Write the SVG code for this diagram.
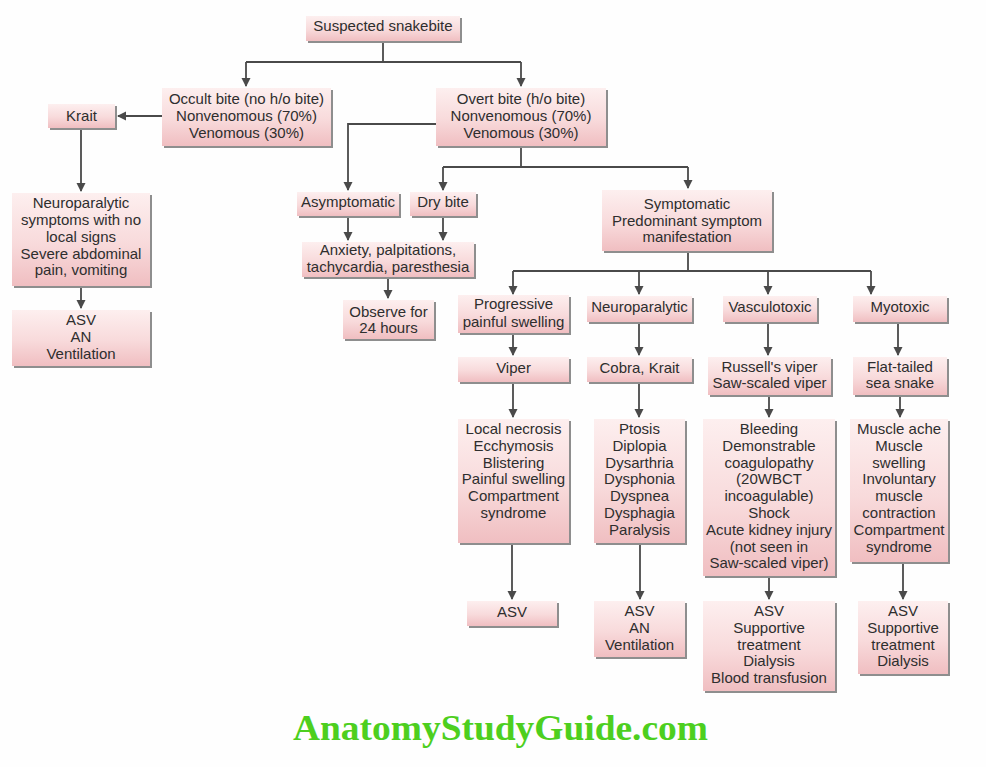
<svg xmlns="http://www.w3.org/2000/svg" width="986" height="767" viewBox="0 0 986 767">
<defs>
<linearGradient id="g" x1="0" y1="0" x2="0" y2="1">
<stop offset="0" stop-color="#fdefef"/>
<stop offset="0.55" stop-color="#f8dadb"/>
<stop offset="1" stop-color="#f0bec1"/>
</linearGradient>
<marker id="ah" markerUnits="userSpaceOnUse" markerWidth="10" markerHeight="10" refX="8" refY="4.5" orient="auto">
<path d="M0,0 L9,4.5 L0,9 z" fill="#4a4a4a"/>
</marker>
<style>
.sh{fill:#8e8e8e}
.bx{fill:url(#g)}
.t{font-family:"Liberation Sans",Arial,sans-serif;font-size:15px;fill:#2e2e2e;text-anchor:middle}
.c{fill:none;stroke:#4a4a4a;stroke-width:1.8}
.a{marker-end:url(#ah)}
.wm{font-family:"Liberation Serif","Times New Roman",serif;font-weight:bold;font-size:36px;fill:#4dcf1e;text-anchor:middle}
</style>
</defs>
<rect width="986" height="767" fill="#fefefe"/>

<g id="connectors">
<path class="c" d="M383,42 V62 M246,62 H521"/>
<path class="c a" d="M246,62 V86"/>
<path class="c a" d="M521,62 V86"/>
<path class="c a" d="M162,116 H118"/>
<path class="c a" d="M81,128 V191"/>
<path class="c a" d="M81,287 V308"/>
<path class="c a" d="M436,124 H348 V190"/>
<path class="c" d="M521,147 V167 M443,167 H688"/>
<path class="c a" d="M443,167 V190"/>
<path class="c a" d="M688,167 V188"/>
<path class="c a" d="M348,216 V240"/>
<path class="c a" d="M443,216 V240"/>
<path class="c a" d="M388,277 V298"/>
<path class="c" d="M688,251 V271 M513,271 H871"/>
<path class="c a" d="M513,271 V294"/>
<path class="c a" d="M639,271 V294"/>
<path class="c a" d="M768,271 V294"/>
<path class="c a" d="M871,271 V294"/>
<path class="c a" d="M513,334 V355"/>
<path class="c a" d="M639,322 V355"/>
<path class="c a" d="M768,322 V355"/>
<path class="c a" d="M898,322 V355"/>
<path class="c a" d="M513,382 V417"/>
<path class="c a" d="M639,382 V417"/>
<path class="c a" d="M769,395 V417"/>
<path class="c a" d="M900,395 V417"/>
<path class="c a" d="M512,543 V599"/>
<path class="c a" d="M640,543 V599"/>
<path class="c a" d="M769,576 V599"/>
<path class="c a" d="M903,562 V599"/>
</g>

<g id="n-suspected">
<rect class="sh" x="308" y="18" width="154" height="25"/><rect class="bx" x="306" y="16" width="154" height="25"/>
<text class="t" x="383" y="31">Suspected snakebite</text>
</g>
<g id="n-occult">
<rect class="sh" x="164" y="90" width="169" height="58"/><rect class="bx" x="162" y="88" width="169" height="58"/>
<text class="t" x="246.5" y="104">Occult bite (no h/o bite)</text>
<text class="t" x="246.5" y="120.8">Nonvenomous (70%)</text>
<text class="t" x="246.5" y="137.6">Venomous (30%)</text>
</g>
<g id="n-overt">
<rect class="sh" x="438" y="90" width="170" height="58"/><rect class="bx" x="436" y="88" width="170" height="58"/>
<text class="t" x="521" y="104">Overt bite (h/o bite)</text>
<text class="t" x="521" y="120.8">Nonvenomous (70%)</text>
<text class="t" x="521" y="137.6">Venomous (30%)</text>
</g>
<g id="n-krait">
<rect class="sh" x="50" y="106" width="67" height="24"/><rect class="bx" x="48" y="104" width="67" height="24"/>
<text class="t" x="81.5" y="121">Krait</text>
</g>
<g id="n-neuro-left">
<rect class="sh" x="14" y="195" width="138" height="93"/><rect class="bx" x="12" y="193" width="138" height="93"/>
<text class="t" x="81" y="208">Neuroparalytic</text>
<text class="t" x="81" y="225">symptoms with no</text>
<text class="t" x="81" y="242">local signs</text>
<text class="t" x="81" y="259">Severe abdominal</text>
<text class="t" x="81" y="275">pain, vomiting</text>
</g>
<g id="n-asv-left">
<rect class="sh" x="14" y="312" width="138" height="56"/><rect class="bx" x="12" y="310" width="138" height="56"/>
<text class="t" x="81" y="325">ASV</text>
<text class="t" x="81" y="342">AN</text>
<text class="t" x="81" y="359">Ventilation</text>
</g>
<g id="n-asymptomatic">
<rect class="sh" x="299" y="194" width="102" height="24"/><rect class="bx" x="297" y="192" width="102" height="24"/>
<text class="t" x="348" y="207">Asymptomatic</text>
</g>
<g id="n-drybite">
<rect class="sh" x="412" y="194" width="66" height="24"/><rect class="bx" x="410" y="192" width="66" height="24"/>
<text class="t" x="443" y="207">Dry bite</text>
</g>
<g id="n-anxiety">
<rect class="sh" x="304" y="244" width="172" height="35"/><rect class="bx" x="302" y="242" width="172" height="35"/>
<text class="t" x="388" y="255">Anxiety, palpitations,</text>
<text class="t" x="388" y="272">tachycardia, paresthesia</text>
</g>
<g id="n-observe">
<rect class="sh" x="345" y="302" width="91" height="39"/><rect class="bx" x="343" y="300" width="91" height="39"/>
<text class="t" x="388.5" y="317">Observe for</text>
<text class="t" x="388.5" y="333">24 hours</text>
</g>
<g id="n-symptomatic">
<rect class="sh" x="604" y="192" width="170" height="61"/><rect class="bx" x="602" y="190" width="170" height="61"/>
<text class="t" x="687" y="209">Symptomatic</text>
<text class="t" x="687" y="226">Predominant symptom</text>
<text class="t" x="687" y="242">manifestation</text>
</g>
<g id="n-progressive">
<rect class="sh" x="460" y="297" width="111" height="38"/><rect class="bx" x="458" y="295" width="111" height="38"/>
<text class="t" x="513.5" y="309">Progressive</text>
<text class="t" x="513.5" y="327">painful swelling</text>
</g>
<g id="n-neuroparalytic">
<rect class="sh" x="589" y="298" width="105" height="26"/><rect class="bx" x="587" y="296" width="105" height="26"/>
<text class="t" x="639.5" y="312">Neuroparalytic</text>
</g>
<g id="n-vasculotoxic">
<rect class="sh" x="725" y="298" width="94" height="26"/><rect class="bx" x="723" y="296" width="94" height="26"/>
<text class="t" x="770" y="312">Vasculotoxic</text>
</g>
<g id="n-myotoxic">
<rect class="sh" x="855" y="298" width="94" height="26"/><rect class="bx" x="853" y="296" width="94" height="26"/>
<text class="t" x="900" y="312">Myotoxic</text>
</g>
<g id="n-viper">
<rect class="sh" x="460" y="359" width="111" height="25"/><rect class="bx" x="458" y="357" width="111" height="25"/>
<text class="t" x="513.5" y="373">Viper</text>
</g>
<g id="n-cobra">
<rect class="sh" x="589" y="359" width="105" height="25"/><rect class="bx" x="587" y="357" width="105" height="25"/>
<text class="t" x="639.5" y="373">Cobra, Krait</text>
</g>
<g id="n-russell">
<rect class="sh" x="710" y="359" width="123" height="38"/><rect class="bx" x="708" y="357" width="123" height="38"/>
<text class="t" x="769.5" y="372">Russell's viper</text>
<text class="t" x="769.5" y="388">Saw-scaled viper</text>
</g>
<g id="n-flattailed">
<rect class="sh" x="855" y="359" width="94" height="38"/><rect class="bx" x="853" y="357" width="94" height="38"/>
<text class="t" x="900" y="372">Flat-tailed</text>
<text class="t" x="900" y="388">sea snake</text>
</g>
<g id="n-local">
<rect class="sh" x="460" y="421" width="111" height="124"/><rect class="bx" x="458" y="419" width="111" height="124"/>
<text class="t" x="513.5" y="434">Local necrosis</text>
<text class="t" x="513.5" y="450.8">Ecchymosis</text>
<text class="t" x="513.5" y="467.6">Blistering</text>
<text class="t" x="513.5" y="484.4">Painful swelling</text>
<text class="t" x="513.5" y="501.2">Compartment</text>
<text class="t" x="513.5" y="518">syndrome</text>
</g>
<g id="n-ptosis">
<rect class="sh" x="596" y="421" width="91" height="124"/><rect class="bx" x="594" y="419" width="91" height="124"/>
<text class="t" x="639.5" y="434">Ptosis</text>
<text class="t" x="639.5" y="450.8">Diplopia</text>
<text class="t" x="639.5" y="467.6">Dysarthria</text>
<text class="t" x="639.5" y="484.4">Dysphonia</text>
<text class="t" x="639.5" y="501.2">Dyspnea</text>
<text class="t" x="639.5" y="518">Dysphagia</text>
<text class="t" x="639.5" y="534.8">Paralysis</text>
</g>
<g id="n-bleeding">
<rect class="sh" x="705" y="421" width="132" height="157"/><rect class="bx" x="703" y="419" width="132" height="157"/>
<text class="t" x="769" y="434">Bleeding</text>
<text class="t" x="769" y="450.8">Demonstrable</text>
<text class="t" x="769" y="467.6">coagulopathy</text>
<text class="t" x="769" y="484.4">(20WBCT</text>
<text class="t" x="769" y="501.2">incoagulable)</text>
<text class="t" x="769" y="518">Shock</text>
<text class="t" x="769" y="534.8">Acute kidney injury</text>
<text class="t" x="769" y="551.6">(not seen in</text>
<text class="t" x="769" y="568.4">Saw-scaled viper)</text>
</g>
<g id="n-muscle">
<rect class="sh" x="852" y="421" width="98" height="143"/><rect class="bx" x="850" y="419" width="98" height="143"/>
<text class="t" x="899" y="434">Muscle ache</text>
<text class="t" x="899" y="450.8">Muscle</text>
<text class="t" x="899" y="467.6">swelling</text>
<text class="t" x="899" y="484.4">Involuntary</text>
<text class="t" x="899" y="501.2">muscle</text>
<text class="t" x="899" y="518">contraction</text>
<text class="t" x="899" y="534.8">Compartment</text>
<text class="t" x="899" y="551.6">syndrome</text>
</g>
<g id="n-asv-viper">
<rect class="sh" x="469" y="603" width="90" height="25"/><rect class="bx" x="467" y="601" width="90" height="25"/>
<text class="t" x="512" y="617">ASV</text>
</g>
<g id="n-asv-neuro">
<rect class="sh" x="596" y="603" width="91" height="56"/><rect class="bx" x="594" y="601" width="91" height="56"/>
<text class="t" x="639.5" y="616">ASV</text>
<text class="t" x="639.5" y="632.8">AN</text>
<text class="t" x="639.5" y="649.6">Ventilation</text>
</g>
<g id="n-asv-vasc">
<rect class="sh" x="705" y="603" width="132" height="90"/><rect class="bx" x="703" y="601" width="132" height="90"/>
<text class="t" x="769" y="616">ASV</text>
<text class="t" x="769" y="632.8">Supportive</text>
<text class="t" x="769" y="649.6">treatment</text>
<text class="t" x="769" y="666.4">Dialysis</text>
<text class="t" x="769" y="683.2">Blood transfusion</text>
</g>
<g id="n-asv-myo">
<rect class="sh" x="860" y="603" width="90" height="73"/><rect class="bx" x="858" y="601" width="90" height="73"/>
<text class="t" x="903" y="616">ASV</text>
<text class="t" x="903" y="632.8">Supportive</text>
<text class="t" x="903" y="649.6">treatment</text>
<text class="t" x="903" y="666.4">Dialysis</text>
</g>

<text class="wm" x="500.5" y="740" textLength="415" lengthAdjust="spacingAndGlyphs">AnatomyStudyGuide.com</text>
</svg>
